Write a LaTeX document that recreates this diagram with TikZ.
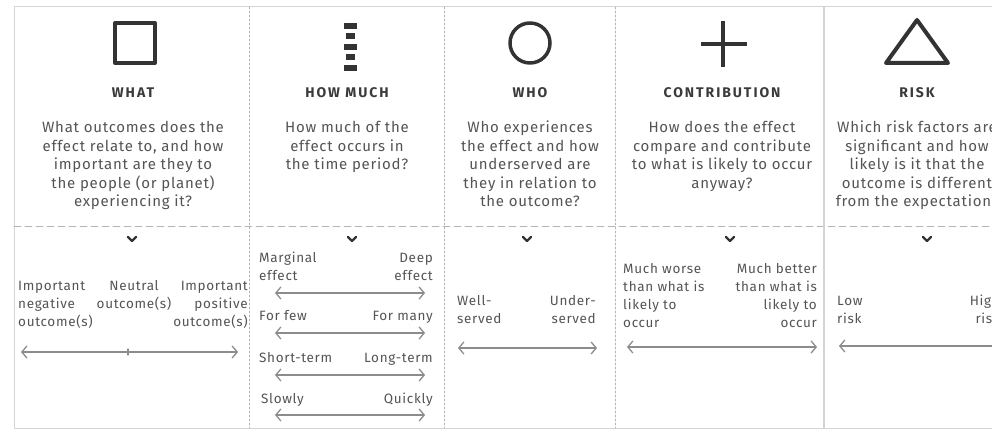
\documentclass[tikz,border=0pt]{standalone}
\usepackage{fontspec}
\setmainfont{Fira Sans}
\usetikzlibrary{arrows.meta}
\definecolor{inkgray}{HTML}{333333}
\definecolor{headgray}{HTML}{3A3A3A}
\definecolor{txtgray}{HTML}{545454}
\definecolor{arrgray}{HTML}{8C8C8C}
\definecolor{framegray}{HTML}{D4D4D4}
\definecolor{dashgray}{HTML}{B4B4B4}
\newfontfamily\headfont[LetterSpace=14]{Fira Sans}
\newfontfamily\questfont[LetterSpace=5]{Fira Sans}
\begin{document}
\begin{tikzpicture}[x=1pt,y=-1pt,line join=round,line cap=round,>={Straight Barb[length=5pt,width=12pt]}]
	\tikzset{heading/.style={font=\headfont\bfseries\fontsize{14}{16}\selectfont,text=headgray,inner sep=0pt,anchor=base},
		quest/.style={font=\questfont\fontsize{15}{18.5}\selectfont,text=txtgray,align=center,inner sep=0pt,anchor=base},
		lbl/.style={font=\questfont\fontsize{13.5}{18.2}\selectfont,text=txtgray,inner sep=0pt,anchor=base},
		spread/.style={<->,draw=arrgray,line width=1.3pt},
		icon/.style={draw=inkgray,line width=4pt},
		chev/.style={draw=inkgray,line width=2.2pt}}
	\def \colA{133}
	\def \colB{347}
	\def \colC{530}
	\def \colD{722}
	\def \colE{917}
	\useasboundingbox (0,0) rectangle (992,430);
	\begin{scope}
		\clip (0,0) rectangle (992,430);
		% frame and dividers
		\draw[framegray,line width=1pt] (992,7)--(14,7)--(14,428)--(992,428);
		\draw[dashgray,line width=0.9pt,dash pattern=on 7pt off 4pt] (14,226)--(992,226);
		\foreach \xd in {249,444,615}
			\draw[dashgray,line width=0.9pt,dash pattern=on 2pt off 2pt] (\xd,7)--(\xd,428);
		\draw[framegray,line width=1.2pt] (824,7)--(824,428);
		% icons
		\draw[icon] (115,23) rectangle (155,63);
		\foreach \yb/\w in {23/6.5,33.5/4.5,44/6.5,54.5/4.5,65/6.5}
			\fill[inkgray] (350-\w,\yb) rectangle (350+\w,\yb+6);
		\draw[icon,line width=3.5pt] (\colC,43) circle (20);
		\draw[icon,line cap=butt] (701,44)--(747,44) (\colD+1,21)--(\colD+1,67);
		\draw[icon] (917,20)--(948,63)--(886,63)--cycle;
		% headings and questions (base is the last line)
		\node[heading] (whatT) at (\colA,98) {WHAT};
		\node[heading] (muchT) at (\colB,98) {HOW MUCH};
		\node[heading] (whoT) at (\colC,98) {WHO};
		\node[heading] (contT) at (\colD,98) {CONTRIBUTION};
		\node[heading] (riskT) at (\colE,98) {RISK};
		\node[quest] (whatQ) at (\colA,207) {What outcomes does the\\effect relate to, and how\\important are they to\\the people (or planet)\\experiencing it?};
		\node[quest] (muchQ) at (\colB,170) {How much of the\\effect occurs in\\the time period?};
		\node[quest] (whoQ) at (\colC,207) {Who experiences\\the effect and how\\underserved are\\they in relation to\\the outcome?};
		\node[quest] (contQ) at (\colD,188.5) {How does the effect\\compare and contribute\\to what is likely to occur\\anyway?};
		\node[quest] (riskQ) at (\colE,207) {Which risk factors are\\significant and how\\likely is it that the\\outcome is different\\from the expectation?};
		% chevrons
		\foreach \xc in {132,352,527,730,927}
			\draw[chev] (\xc-4,237)--(\xc,241)--(\xc+4,237);
		% what
		\node[lbl,align=left,anchor=base west] (whatL) at (18,326.4) {Important\\negative\\outcome(s)};
		\node[lbl,align=center] (whatM) at (134,308.2) {Neutral\\outcome(s)};
		\node[lbl,align=right,anchor=base east] (whatR) at (248,326.4) {Important\\positive\\outcome(s)};
		\coordinate (whatA) at (21,352);
		\coordinate (whatB) at (238,352);
		\coordinate (whatMid) at (128,352);
		\draw[spread] (whatA)--(whatB);
		\draw[arrgray,line width=1.1pt] ([yshift=-3pt]whatMid)--([yshift=3pt]whatMid);
		% how much
		\node[lbl,align=left,anchor=base west] (margL) at (259,280.2) {Marginal\\effect};
		\node[lbl,align=right,anchor=base east] (deepR) at (433,280.2) {Deep\\effect};
		\node[lbl,anchor=base west] (fewL) at (259,320) {For few};
		\node[lbl,anchor=base east] (manyR) at (433,320) {For many};
		\node[lbl,anchor=base west] (shortL) at (259,362) {Short-term};
		\node[lbl,anchor=base east] (longR) at (433,362) {Long-term};
		\node[lbl,anchor=base west] (slowL) at (261,403) {Slowly};
		\node[lbl,anchor=base east] (quickR) at (433,403) {Quickly};
		\foreach \ya/\nm in {293/marg,333/few,375/short,415/slow}{
			\coordinate (\nm A) at (275,\ya);
			\coordinate (\nm B) at (425,\ya);
			\draw[spread] (\nm A)--(\nm B);
		}
		% who
		\node[lbl,align=left,anchor=base west] (wellL) at (457,323.2) {Well-\\served};
		\node[lbl,align=right,anchor=base east] (underR) at (596,323.2) {Under-\\served};
		\coordinate (whoA) at (458,348);
		\coordinate (whoB) at (597,348);
		\draw[spread] (whoA)--(whoB);
		% contribution
		\node[lbl,align=left,anchor=base west] (worseL) at (623,327.6) {Much worse\\than what is\\likely to\\occur};
		\node[lbl,align=right,anchor=base east] (betterR) at (817,327.6) {Much better\\than what is\\likely to\\occur};
		\coordinate (contA) at (627,347);
		\coordinate (contB) at (817,347);
		\draw[spread] (contA)--(contB);
		% risk
		\node[lbl,align=left,anchor=base west] (lowL) at (837,323.2) {Low\\risk};
		\node[lbl,align=right,anchor=base east] (highR) at (1000,323.2) {High\\risk};
		\coordinate (riskA) at (839,346);
		\coordinate (riskB) at (1000,346);
		\draw[spread] (riskA)--(riskB);
	\end{scope}
\end{tikzpicture}
\end{document}
